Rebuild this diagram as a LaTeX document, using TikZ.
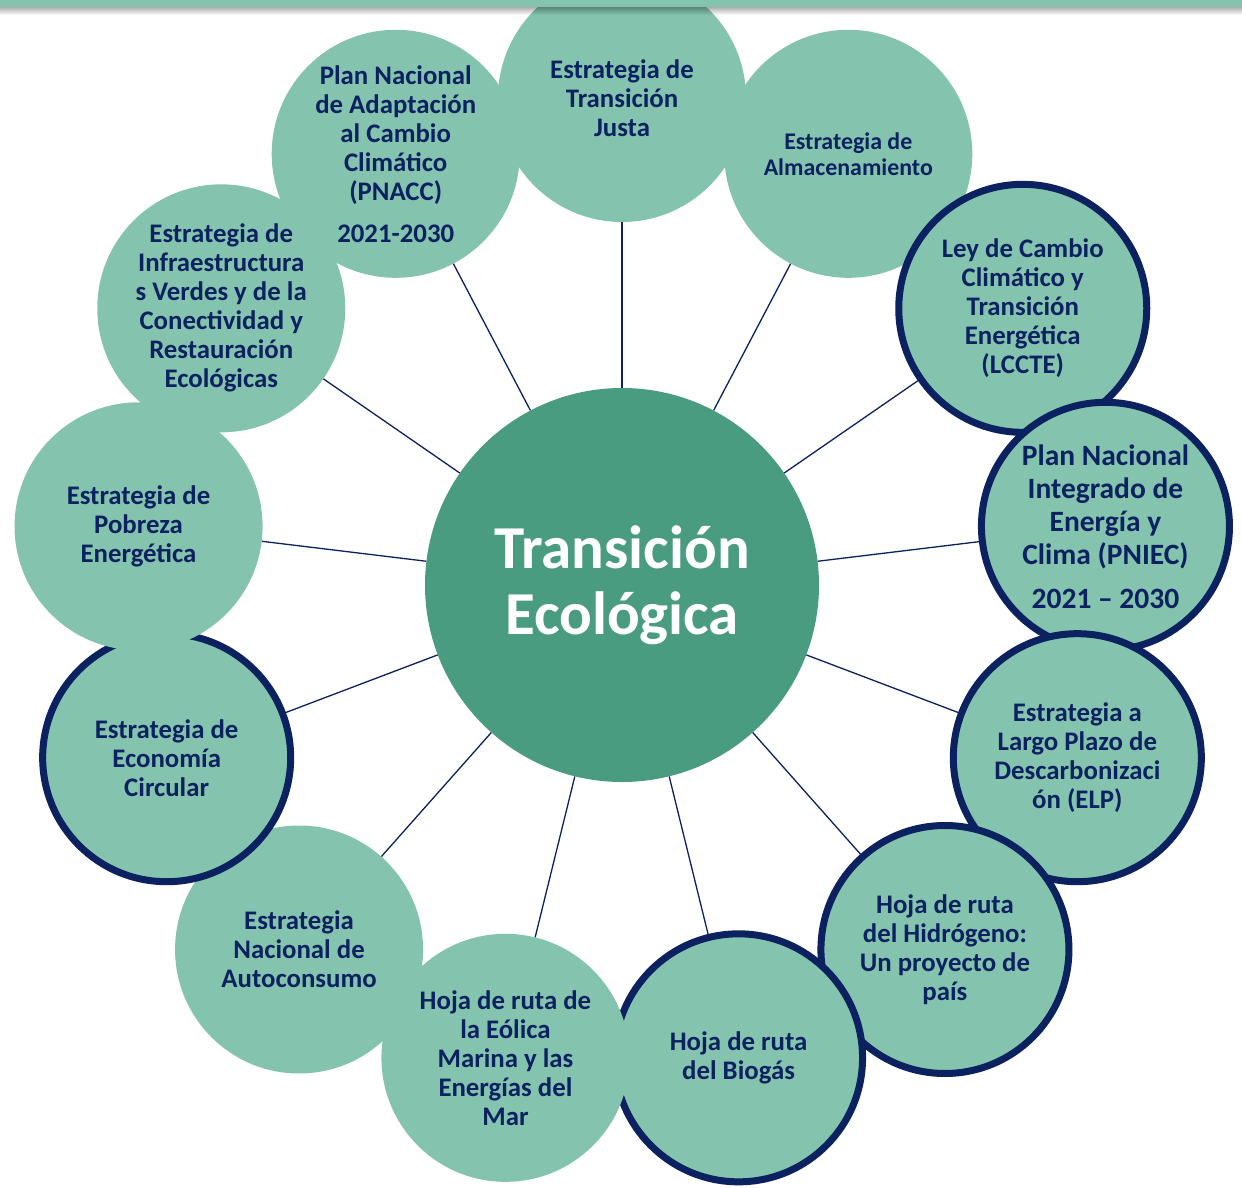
\documentclass[tikz,border=0pt]{standalone}
\usepackage{fontspec}
\setmainfont{Carlito}
\definecolor{lt}{RGB}{132,196,174}
\definecolor{dk}{RGB}{74,156,128}
\definecolor{navy}{RGB}{11,33,96}
\begin{document}
\begin{tikzpicture}[x=1pt,y=-1pt,
  bub/.style={circle, fill=lt, minimum size=248pt, inner sep=0pt, align=center,
    font=\bfseries\fontsize{26.8}{29}\selectfont, text=navy},
  bbub/.style={bub, draw=navy, line width=7pt},
  hub/.style={circle, fill=dk, minimum size=394pt, inner sep=0pt, align=center,
    font=\bfseries\fontsize{61}{66}\selectfont, text=white},
  link/.style={draw=navy, line width=1.3pt}]
\useasboundingbox[fill=white] (0,0) rectangle (1242,1188);
\node[hub] (c) at (622,585) {Transición\\Ecológica};
\node[bub]  (n0)  at ([shift={(90:487pt)}]c.center) {Estrategia de\\Transición\\Justa};
\node[bub, font=\bfseries\fontsize{23.9}{26}\selectfont]  (n1)  at ([shift={(62.31:487pt)}]c.center) {Estrategia de\\Almacenamiento};
\node[bbub] (n2)  at ([shift={(34.62:487pt)}]c.center) {Ley de Cambio\\Climático y\\Transición\\Energética\\(LCCTE)};
\node[bbub, font=\bfseries\fontsize{29.5}{33}\selectfont] (n3)  at ([shift={(6.92:487pt)}]c.center) {Plan Nacional\\Integrado de\\Energía y\\Clima (PNIEC)\\[11pt]2021 – 2030};
\node[bbub] (n4)  at ([shift={(-20.77:487pt)}]c.center) {Estrategia a\\Largo Plazo de\\Descarbonizaci\\ón (ELP)};
\node[bbub] (n5)  at ([shift={(-48.46:487pt)}]c.center) {Hoja de ruta\\del Hidrógeno:\\Un proyecto de\\país};
\node[bbub] (n6)  at ([shift={(-76.15:487pt)}]c.center) {Hoja de ruta\\del Biogás};
\node[bub]  (n7)  at ([shift={(-103.85:487pt)}]c.center) {Hoja de ruta de\\la Eólica\\Marina y las\\Energías del\\Mar};
\node[bub]  (n8)  at ([shift={(-131.54:487pt)}]c.center) {Estrategia\\Nacional de\\Autoconsumo};
\node[bbub] (n9)  at ([shift={(-159.23:487pt)}]c.center) {Estrategia de\\Economía\\Circular};
\node[bub]  (n10) at ([shift={(-186.92:487pt)}]c.center) {Estrategia de\\Pobreza\\Energética};
\node[bub]  (n11) at ([shift={(-214.62:487pt)}]c.center) {Estrategia de\\Infraestructura\\s Verdes y de la\\Conectividad y\\Restauración\\Ecológicas};
\node[bub]  (n12) at ([shift={(-242.31:487pt)}]c.center) {Plan Nacional\\de Adaptación\\al Cambio\\Climático\\(PNACC)\\[13pt]2021-2030};
\foreach \k in {0,...,12} \draw[link] (c) -- (n\k);
\fill[lt] (0,0) rectangle (1242,7);
\foreach \i [evaluate=\i as \op using 0.32*(1-\i/8)] in {0,...,7}
  \fill[black, opacity=\op] (0,7+\i) rectangle (1242,8+\i);
\end{tikzpicture}
\end{document}
